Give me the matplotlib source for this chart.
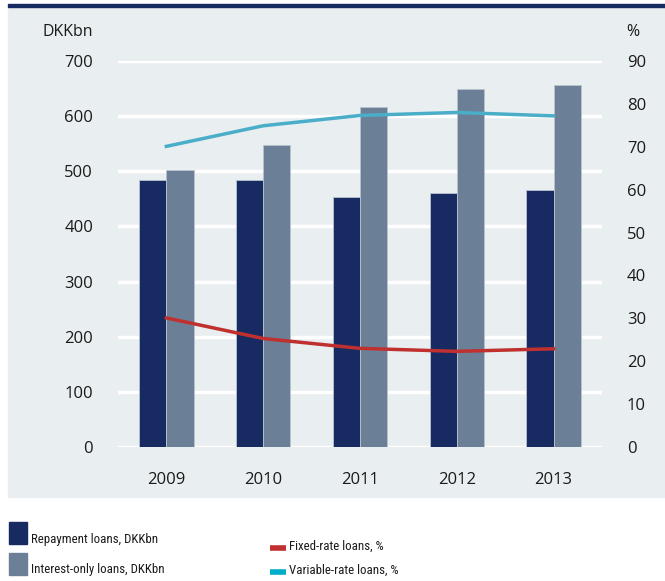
import matplotlib.pyplot as plt
import matplotlib.patches as mpatches
from matplotlib.lines import Line2D
import numpy as np

plt.rcParams["font.family"] = ["Open Sans", "DejaVu Sans"]

years = ["2009", "2010", "2011", "2012", "2013"]
repayment = [485, 485, 453, 461, 466]       # DKKbn
interest_only = [503, 548, 616, 649, 656]   # DKKbn
fixed_rate = [30.1, 25.3, 23.0, 22.3, 22.9]     # %
variable_rate = [70.1, 74.9, 77.3, 78.0, 77.2]  # %

NAVY = "#172a62"
SLATE = "#6b8096"
RED = "#c0302f"
CYAN = "#4aaec8"
BG = "#e9eef1"
TXT = "#1a1a1a"
LEG_FONT = ["Roboto Condensed", "Fira Sans Condensed", "PT Sans Narrow",
            "Archivo Narrow", "Open Sans", "DejaVu Sans"]

fig = plt.figure(figsize=(6.65, 5.81), dpi=100)
W, H = 665, 581

# light panel behind the chart, dark rule on top
fig.patches.append(mpatches.Rectangle((8 / W, 1 - 497 / H), 1 - 8 / W, (497 - 7) / H,
                                      transform=fig.transFigure, color=BG, zorder=-2))
fig.patches.append(mpatches.Rectangle((8 / W, 1 - 7 / H), 1 - 8 / W, 3 / H,
                                      transform=fig.transFigure, color=NAVY, zorder=-2))

ax = fig.add_axes([118 / W, 1 - 447 / H, 484 / W, 386 / H])
ax.set_facecolor("none")
x = np.arange(len(years))
bw = 0.28
ax.bar(x - bw / 2, repayment, bw, color=NAVY, edgecolor="#b8c3d0", linewidth=0.6, zorder=3)
ax.bar(x + bw / 2, interest_only, bw, color=SLATE, edgecolor="#b8c3d0", linewidth=0.6, zorder=3)
ax.set_ylim(0, 700)
ax.set_yticks(range(0, 701, 100))
ax.set_xlim(-0.5, 4.5)
ax.set_xticks(x)
ax.set_xticklabels(years)
ax.grid(axis="y", color="white", linewidth=2.5, zorder=1)
ax.set_axisbelow(True)
for s in ax.spines.values():
    s.set_visible(False)
ax.tick_params(length=0, labelsize=12, colors=TXT)
ax.tick_params(axis="y", pad=18)
ax.tick_params(axis="x", pad=18)

ax2 = ax.twinx()
ax2.plot(x, fixed_rate, color=RED, linewidth=2.5, zorder=4)
ax2.plot(x, variable_rate, color=CYAN, linewidth=2.5, zorder=4)
ax2.set_ylim(0, 90)
ax2.set_yticks(range(0, 91, 10))
for s in ax2.spines.values():
    s.set_visible(False)
ax2.tick_params(length=0, labelsize=12, colors=TXT, pad=18)

fig.text(42 / W, 1 - 32 / H, "DKKbn", fontsize=11.5, va="center", ha="left", color=TXT)
fig.text(633 / W, 1 - 32 / H, "%", fontsize=11.5, va="center", ha="center", color=TXT)

# legend
fig.patches.append(mpatches.Rectangle((9 / W, 1 - 544 / H), 18 / W, 22 / H,
                                      transform=fig.transFigure, color=NAVY))
fig.patches.append(mpatches.Rectangle((9 / W, 1 - 575 / H), 18 / W, 22 / H,
                                      transform=fig.transFigure, color=SLATE))
fig.text(31 / W, 1 - 539 / H, "Repayment loans, DKKbn", fontsize=9.3, va="center",
         color=TXT, family=LEG_FONT)
fig.text(31 / W, 1 - 570 / H, "Interest-only loans, DKKbn", fontsize=9.3, va="center",
         color=TXT, family=LEG_FONT)
fig.lines.append(Line2D([270 / W, 286 / W], [1 - 548 / H] * 2, transform=fig.transFigure,
                        color=RED, linewidth=4, solid_capstyle="butt"))
fig.lines.append(Line2D([270 / W, 286 / W], [1 - 572 / H] * 2, transform=fig.transFigure,
                        color="#00aec8", linewidth=4, solid_capstyle="butt"))
fig.text(289 / W, 1 - 546 / H, "Fixed-rate loans, %", fontsize=9.3, va="center",
         color=TXT, family=LEG_FONT)
fig.text(289 / W, 1 - 570 / H, "Variable-rate loans, %", fontsize=9.3, va="center",
         color=TXT, family=LEG_FONT)

fig.savefig("out.png", dpi=100)
